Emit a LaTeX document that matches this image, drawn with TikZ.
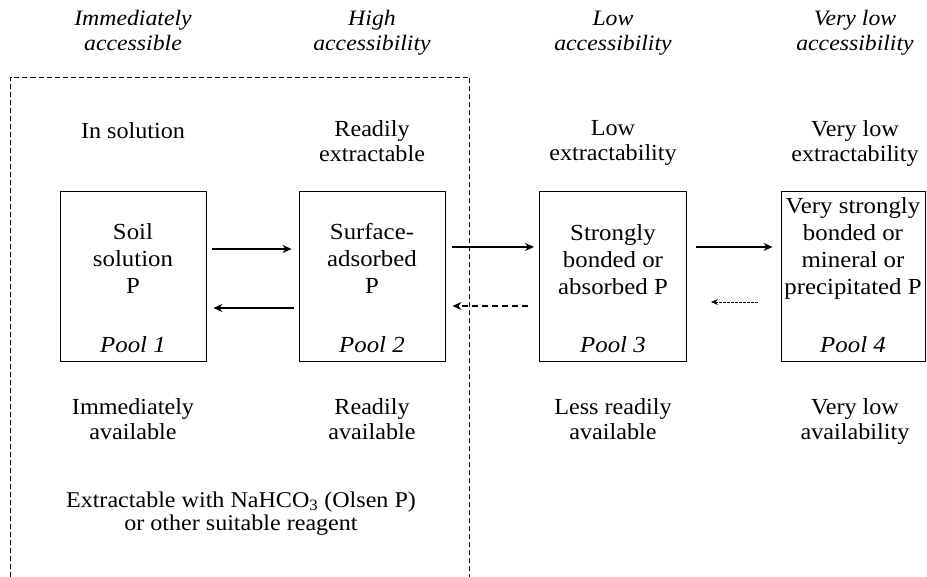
\documentclass[tikz,border=0pt]{standalone}
\usepackage{fontspec}
\setmainfont{Liberation Serif}
\newfontfamily\hdrfont[FakeStretch=1.08]{Liberation Serif}
\newfontfamily\boxfont[FakeStretch=1.08]{Liberation Serif}
\newfontfamily\rowfont[FakeStretch=1.05]{Liberation Serif}
\newfontfamily\notefont[FakeStretch=1.07]{Liberation Serif}
\usetikzlibrary{arrows.meta}
\begin{document}
\begin{tikzpicture}[x=1pt,y=1pt,
  pool/.style={draw, line width=0.9pt, minimum height=170pt, inner sep=0pt},
  txt/.style={align=center, anchor=north, inner sep=0pt, font=\boxfont\fontsize{23}{27}\selectfont, execute at begin node=\strut},
  pl/.style={anchor=base, inner sep=0pt, font=\boxfont\fontsize{23}{27}\selectfont\itshape},
  hdr/.style={align=center, anchor=north, inner sep=0pt, font=\hdrfont\fontsize{22}{25}\selectfont\itshape, execute at begin node=\strut},
  row/.style={align=center, anchor=north, inner sep=0pt, font=\rowfont\fontsize{23}{25}\selectfont, execute at begin node=\strut},
  arr/.style={line width=1.3pt, -{Stealth[length=9pt,width=8pt,inset=3pt]}},
  dashbox/.style={line width=0.8pt, dash pattern=on 5pt off 3pt}]
\useasboundingbox (0,0) rectangle (927,577);
% pools
\node[pool, minimum width=146pt] (b1) at (133,301) {};
\node[pool, minimum width=146pt] (b2) at (372,301) {};
\node[pool, minimum width=147pt] (b3) at (613,301) {};
\node[pool, minimum width=144pt] (b4) at (853,301) {};
% box texts
\node[txt] (t1) at (133,353.9) {Soil\\solution\\P};
\node[txt] (t2) at (372,353.9) {Surface-\\adsorbed\\P};
\node[txt] (t3) at (613,352.9) {Strongly\\bonded or\\absorbed P};
\node[txt] (t4) at (853,379.9) {Very strongly\\bonded or\\mineral or\\precipitated P};
\node[pl] (p1) at (133,224) {Pool 1};
\node[pl] (p2) at (372,224) {Pool 2};
\node[pl] (p3) at (613,224) {Pool 3};
\node[pl] (p4) at (853,224) {Pool 4};
% headers
\node[hdr] (h1) at (133,566.5) {Immediately\\accessible};
\node[hdr] (h2) at (372,566.5) {High\\accessibility};
\node[hdr] (h3) at (613,566.5) {Low\\accessibility};
\node[hdr] (h4) at (855,566.5) {Very low\\accessibility};
% extractability row
\node[row] (e1) at (133,456.5) {In solution};
\node[row] (e2) at (372,456.5) {Readily\\extractable};
\node[row] (e3) at (613,456.5) {Low\\extractability};
\node[row] (e4) at (855,456.5) {Very low\\extractability};
% availability row
\node[row] (a1) at (133,178.5) {Immediately\\available};
\node[row] (a2) at (372,178.5) {Readily\\available};
\node[row] (a3) at (613,178.5) {Less readily\\available};
\node[row] (a4) at (855,178.5) {Very low\\availability};
% extraction note
\node[align=center, anchor=north, inner sep=0pt, font=\notefont\fontsize{22.5}{23}\selectfont, execute at begin node=\strut] (x) at (241,85.1) {Extractable with NaHCO\textsubscript{3} (Olsen P)\\or other suitable reagent};
% dashed region
\coordinate (dl) at (10.5,0);
\coordinate (dr) at (469,0);
\draw[dashbox] (dl) -- (10.5,500) -- (469,500) -- (dr);
% arrows
\draw[arr] ([xshift=6pt,yshift=27pt]b1.east) -- ([xshift=-7pt,yshift=27pt]b2.west);
\draw[arr] ([xshift=-5pt,yshift=-32pt]b2.west) -- ([xshift=7pt,yshift=-32pt]b1.east);
\draw[arr] ([xshift=7pt,yshift=29pt]b2.east) -- ([xshift=-5pt,yshift=29pt]b3.west);
\draw[arr, dash pattern=on 6pt off 4pt] ([xshift=-11pt,yshift=-30pt]b3.west) -- ([xshift=7pt,yshift=-30pt]b2.east);
\draw[arr] ([xshift=9pt,yshift=29pt]b3.east) -- ([xshift=-8pt,yshift=29pt]b4.west);
\draw[line width=0.8pt, dash pattern=on 2.5pt off 1.5pt, -{Stealth[length=7pt,width=6pt,inset=2.5pt]}] ([xshift=-23pt,yshift=-26pt]b4.west) -- ([xshift=24pt,yshift=-26pt]b3.east);
\end{tikzpicture}
\end{document}
